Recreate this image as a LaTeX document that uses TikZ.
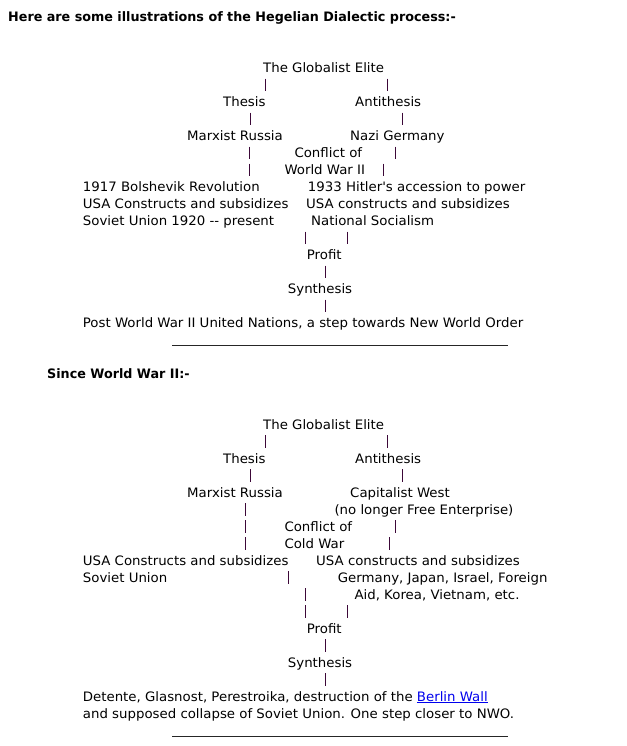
\documentclass[tikz,border=0pt]{standalone}
\usepackage{fontspec}
\setmainfont{DejaVu Sans}[FakeStretch=1.025, BoldFeatures={FakeStretch=0.98}]
\definecolor{barcol}{RGB}{60,8,56}
\definecolor{linkblue}{RGB}{0,0,238}
\newcommand\vbr[2]{\draw[vbarline] ({#1},{#2-6}) -- ({#1},{#2+6.5});}
\begin{document}
\begin{tikzpicture}[x=1pt,y=-1pt,
  txt/.style={inner sep=0pt, anchor=base west, font=\fontsize{13}{17}\selectfont},
  ctxt/.style={txt, anchor=base},
  hd/.style={txt, font=\fontsize{13}{17}\selectfont\bfseries},
  vbarline/.style={draw=barcol, line width=1pt},
  rulel/.style={draw=black!85, line width=1pt}]
\useasboundingbox[fill=white] (0,0) rectangle (626,746);

% ---------- Section 1 ----------
\node[hd] (h1) at (8,21.8) {Here are some illustrations of the Hegelian Dialectic process:-};
\node[txt] (ge1) at (263,72.5) {The Globalist Elite};
\vbr{265.5}{84.7} \vbr{387.5}{84.7}
\node[txt] (th1) at (223,106.5) {Thesis};
\node[txt] (an1) at (355,106.5) {Antithesis};
\vbr{250.5}{118.7} \vbr{402.5}{118.7}
\node[txt] (mr1) at (187,140.5) {Marxist Russia};
\node[txt] (ng1) at (350,140.5) {Nazi Germany};
\vbr{249.5}{152.7} \vbr{395.5}{152.7}
\node[txt] (cf1) at (294.3,157.5) {Conflict of};
\vbr{249.5}{169.7} \vbr{383.5}{169.7}
\node[txt] (ww1) at (284.3,174.5) {World War II};
\node[txt] (bo1) at (82.7,191.5) {1917 Bolshevik Revolution};
\node[txt] (hi1) at (307.7,191.5) {1933 Hitler\textquotesingle s accession to power};
\node[txt] (us1) at (82.7,208.5) {USA Constructs and subsidizes};
\node[txt] (uc1) at (306,208.5) {USA constructs and subsidizes};
\node[txt] (su1) at (82.7,225.5) {Soviet Union 1920 -{}- present};
\node[txt] (ns1) at (311,225.5) {National Socialism};
\vbr{305.5}{237.7} \vbr{347.5}{237.7}
\node[txt] (pr1) at (306.7,259.5) {Profit};
\vbr{325.5}{271.7}
\node[txt] (sy1) at (287.7,293.5) {Synthesis};
\vbr{325.5}{305.7}
\node[txt] (po1) at (82.7,327.5) {Post World War II United Nations, a step towards New World Order};
\draw[rulel] (172,345.5) -- (508,345.5);

% ---------- Section 2 ----------
\node[hd] (h2) at (47,378.8) {Since World War II:-};
\node[txt] (ge2) at (263,429.1) {The Globalist Elite};
\vbr{265.5}{441.3} \vbr{387.5}{441.3}
\node[txt] (th2) at (223,463.1) {Thesis};
\node[txt] (an2) at (355,463.1) {Antithesis};
\vbr{250.5}{475.3} \vbr{402.5}{475.3}
\node[txt] (mr2) at (187,497.1) {Marxist Russia};
\node[txt] (cw2) at (350,497.1) {Capitalist West};
\vbr{245.5}{509.3}
\node[txt] (nl2) at (334.3,514.1) {(no longer Free Enterprise)};
\vbr{245.5}{526.3} \vbr{395.5}{526.3}
\node[txt] (cf2) at (284.3,531.1) {Conflict of};
\vbr{245.5}{543.3} \vbr{389.5}{543.3}
\node[txt] (cd2) at (284.3,548.1) {Cold War};
\node[txt] (us2) at (82.7,565.1) {USA Constructs and subsidizes};
\node[txt] (uc2) at (316,565.1) {USA constructs and subsidizes};
\node[txt] (su2) at (82.7,582.1) {Soviet Union};
\vbr{288.5}{577.3}
\node[txt] (gj2) at (337.7,582.1) {Germany, Japan, Israel, Foreign};
\vbr{305.5}{594.3}
\node[txt] (ak2) at (354.3,599.1) {Aid, Korea, Vietnam, etc.};
\vbr{305.5}{611.3} \vbr{347.5}{611.3}
\node[txt] (pr2) at (306.7,633.1) {Profit};
\vbr{325.5}{645.3}
\node[txt] (sy2) at (287.7,667.1) {Synthesis};
\vbr{325.5}{679.3}
\node[txt] (de2) at (82.7,701.1) {Detente, Glasnost, Perestroika, destruction of the \textcolor{linkblue}{\underline{Berlin Wall}}};
\node[txt] (an2b) at (82.7,718.1) {and supposed collapse of Soviet Union. One step closer to NWO.};
\draw[rulel] (172,736.5) -- (508,736.5);
\end{tikzpicture}
\end{document}
